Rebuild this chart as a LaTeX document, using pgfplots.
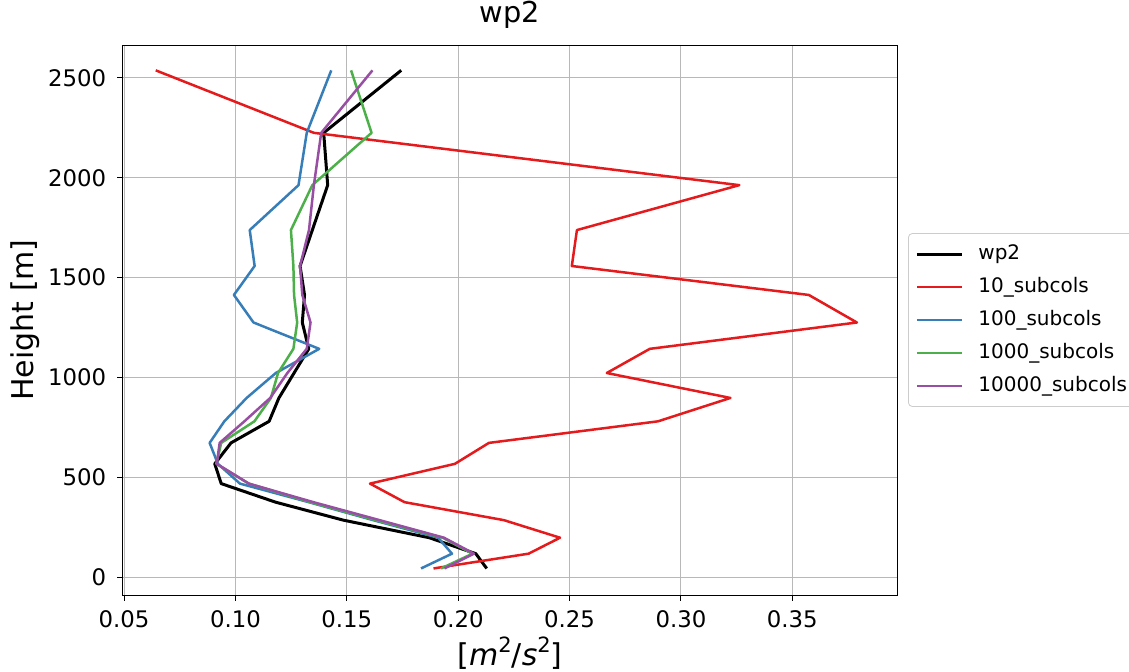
\documentclass[border=0pt]{standalone}
\usepackage{pgfplots}
\pgfplotsset{compat=1.18}
\usepackage{fontspec}
\setmainfont{DejaVu Sans}
\definecolor{cred}{HTML}{E41A1C}
\definecolor{cblue}{HTML}{377EB8}
\definecolor{cgreen}{HTML}{4DAF4A}
\definecolor{cpurple}{HTML}{984EA3}
\begin{document}
\begin{tikzpicture}
\begin{axis}[
  at={(0pt,0pt)}, anchor=south west,
  width=387pt, height=275pt, scale only axis,
  xmin=0.0495, xmax=0.397, ymin=-90, ymax=2665,
  xtick={0.05,0.1,0.15,0.2,0.25,0.3,0.35},
  xticklabels={0.05,0.10,0.15,0.20,0.25,0.30,0.35},
  ytick={0,500,1000,1500,2000,2500},
  yticklabels={0,500,1000,1500,2000,2500},
  tick label style={font=\fontsize{11.4}{13.5}\selectfont},
  xticklabel style={anchor=north, inner sep=0pt, yshift=-5pt},
  yticklabel style={anchor=east, inner sep=0pt, xshift=-5.5pt},
  tick align=outside, tick pos=left, major tick length=2.75pt,
  tick style={black, line width=0.5pt},
  axis line style={line width=0.5pt},
  grid=major, grid style={color=black!28, line width=0.5pt},
  title={wp2},
  title style={font=\fontsize{14.4}{17}\selectfont, at={(0.5,1)}, anchor=base, yshift=5pt},
  xlabel={[\textit{m}\raisebox{0.42em}{\fontsize{10.5}{12}\selectfont 2}/\textit{s}\raisebox{0.42em}{\fontsize{10.5}{12}\selectfont 2}]},
  xlabel style={font=\fontsize{15}{18}\selectfont, at={(0.5,-0.1055)}, anchor=center},
  ylabel={Height [m]},
  ylabel style={font=\fontsize{15}{18}\selectfont, at={(-0.1266,0.5)}, anchor=center},
  legend style={at={(1.0142,0.5)}, anchor=west, draw=black!20, rounded corners=2pt,
    font=\fontsize{10}{12}\selectfont, inner xsep=3.5pt, inner ysep=5.5pt,
    nodes={inner sep=0pt, text height=7.5pt, text depth=2pt}, row sep=7pt,
    /tikz/every odd column/.append style={column sep=7.5pt}},
  legend cell align=left,
  legend image code/.code={\draw[#1] (0pt,0pt) -- (22.5pt,0pt);},
  every axis plot/.append style={line width=1.25pt, line join=round},
]
\addplot[black, line width=1.5pt] coordinates {
(0.2128,43) (0.2079,117) (0.187,197) (0.1484,285) (0.118,375) (0.0936,468)
(0.0907,567) (0.098,672) (0.1151,780) (0.1195,897) (0.1263,1022) (0.1329,1143)
(0.130,1275) (0.131,1413) (0.129,1558) (0.1345,1738) (0.1414,1963) (0.1396,2225) (0.1744,2538)};
\addlegendentry{wp2}
\addplot[cred] coordinates {
(0.1889,43) (0.2316,117) (0.2457,197) (0.2205,285) (0.1759,375) (0.1604,468)
(0.1985,567) (0.2138,672) (0.2897,780) (0.3222,897) (0.2667,1022) (0.2860,1143)
(0.3790,1275) (0.3574,1413) (0.2510,1558) (0.2533,1738) (0.3262,1963) (0.1352,2225) (0.0642,2538)};
\addlegendentry{10\_subcols}
\addplot[cblue] coordinates {
(0.1833,43) (0.1972,117) (0.191,197) (0.1618,285) (0.1329,375) (0.102,468)
(0.0921,567) (0.0884,672) (0.095,780) (0.105,897) (0.1181,1022) (0.1376,1143)
(0.1081,1275) (0.0993,1413) (0.1086,1558) (0.1064,1738) (0.1283,1963) (0.1320,2225) (0.1430,2538)};
\addlegendentry{100\_subcols}
\addplot[cgreen] coordinates {
(0.1923,43) (0.2064,117) (0.193,197) (0.163,285) (0.1336,375) (0.106,468)
(0.0914,567) (0.0936,672) (0.1085,780) (0.1159,897) (0.1191,1022) (0.126,1143)
(0.1277,1275) (0.1263,1413) (0.126,1558) (0.1249,1738) (0.1345,1963) (0.1611,2225) (0.1519,2538)};
\addlegendentry{1000\_subcols}
\addplot[cpurple] coordinates {
(0.1938,43) (0.2071,117) (0.1936,197) (0.1647,285) (0.135,375) (0.106,468)
(0.0916,567) (0.0929,672) (0.104,780) (0.1156,897) (0.1233,1022) (0.1320,1143)
(0.1337,1275) (0.130,1413) (0.129,1558) (0.133,1738) (0.1352,1963) (0.1385,2225) (0.1615,2538)};
\addlegendentry{10000\_subcols}
\end{axis}
\pgfresetboundingbox
\useasboundingbox (-61.5pt,-38pt) rectangle (503pt,297.5pt);
\end{tikzpicture}
\end{document}
